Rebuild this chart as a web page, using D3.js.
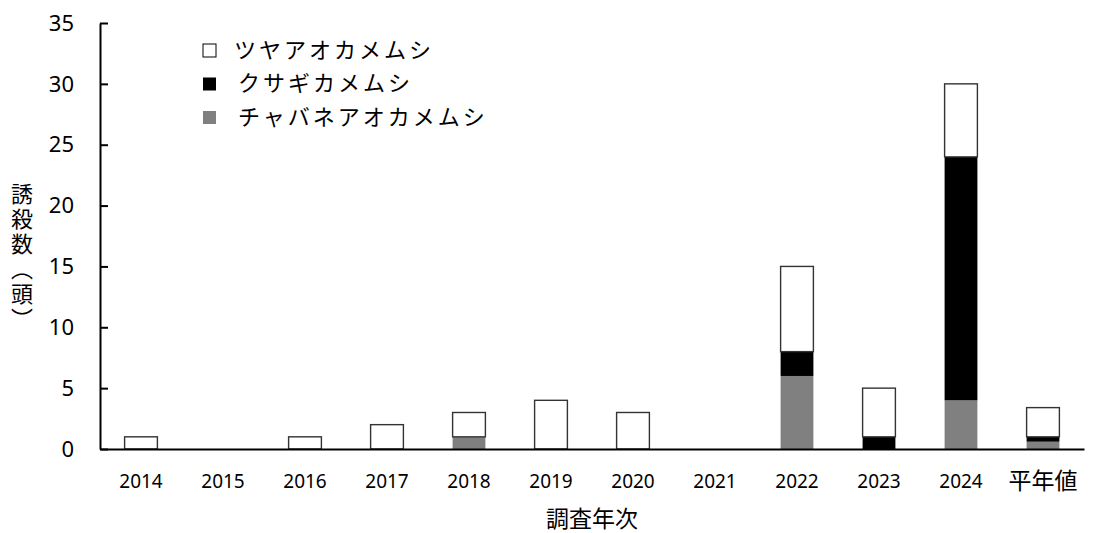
<!DOCTYPE html>
<html>
<head>
<meta charset="utf-8">
<script src="https://cdn.jsdelivr.net/npm/d3@7"></script>
<style>
  body { margin: 0; background: #fff; }
  text { font-family: "Noto Sans CJK JP", "Noto Sans", sans-serif; }
</style>
</head>
<body>
<svg id="chart"></svg>
<script>
var w = 1094;
var h = 533;

// data
var years = ["2014", "2015", "2016", "2017", "2018", "2019", "2020", "2021", "2022", "2023", "2024", "平年値"];
var species = ["チャバネアオカメムシ", "クサギカメムシ", "ツヤアオカメムシ"];
var chabane = [0, 0, 0, 0, 1, 0, 0, 0, 6, 0, 4, 0.6];
var kusagi = [0, 0, 0, 0, 0, 0, 0, 0, 2, 1, 20, 0.4];
var tsuya = [1, 0, 1, 2, 2, 4, 3, 0, 7, 4, 6, 2.4];
var yTicks = [0, 5, 10, 15, 20, 25, 30, 35];

var colors = { "チャバネアオカメムシ": "#808080", "クサギカメムシ": "#000000", "ツヤアオカメムシ": "#ffffff" };

var rows = years.map(function (y, i) {
    return { year: y, "チャバネアオカメムシ": chabane[i], "クサギカメムシ": kusagi[i], "ツヤアオカメムシ": tsuya[i] };
});

var margin = { left: 100, right: 10, top: 23, bottom: 84 };

var svg = d3.select("#chart")
    .attr("width", w)
    .attr("height", h);

var x = d3.scaleBand()
    .domain(years)
    .range([margin.left, w - margin.right])
    .paddingInner(0.6)
    .paddingOuter(0.3);

var y = d3.scaleLinear()
    .domain([0, 35])
    .range([h - margin.bottom, margin.top]);

var stack = d3.stack().keys(species)(rows);

// bars
svg.selectAll("g.layer")
    .data(stack)
    .enter()
    .append("g")
    .attr("class", "layer")
    .attr("fill", function (d) { return colors[d.key]; })
    .attr("stroke", function (d) { return d.key === "ツヤアオカメムシ" ? "#333" : "none"; })
    .attr("stroke-width", 1.4)
    .selectAll("rect")
    .data(function (d) { return d.filter(function (p) { return p[1] - p[0] > 0; }); })
    .enter()
    .append("rect")
    .attr("x", function (d) { return x(d.data.year); })
    .attr("width", x.bandwidth())
    .attr("y", function (d) { return y(d[1]); })
    .attr("height", function (d) { return y(d[0]) - y(d[1]); });

// y axis (ticks inside)
var yAxis = svg.append("g")
    .attr("transform", "translate(" + margin.left + ",0)")
    .call(d3.axisRight(y).tickValues(yTicks).tickSize(8).tickSizeOuter(0).tickFormat(""));
yAxis.select(".domain").attr("stroke", "#000").attr("stroke-width", 2);
yAxis.selectAll(".tick line").attr("stroke", "#000").attr("stroke-width", 2);

svg.selectAll("text.ytick")
    .data(yTicks)
    .enter()
    .append("text")
    .attr("class", "ytick")
    .attr("x", 74)
    .attr("y", function (d) { return y(d); })
    .attr("dy", "0.35em")
    .attr("text-anchor", "end")
    .attr("font-size", "22px")
    .style("font-family", "'Noto Sans', sans-serif")
    .text(function (d) { return d; });

// x axis
var xAxis = svg.append("g")
    .attr("transform", "translate(0," + y(0) + ")")
    .call(d3.axisBottom(x).tickSize(0).tickPadding(26));
xAxis.select(".domain").attr("stroke", "#000").attr("stroke-width", 2);
xAxis.selectAll(".tick text")
    .attr("font-size", function (d) { return isNaN(+d) ? "23px" : "19px"; })
    .attr("dy", function (d) { return isNaN(+d) ? "0.62em" : "0.71em"; })
    .attr("fill", "#000")
    .style("font-family", "'Noto Sans', 'Noto Sans CJK JP', sans-serif");

// axis titles
svg.append("text")
    .text("調査年次")
    .attr("x", 592)
    .attr("y", 527)
    .attr("text-anchor", "middle")
    .attr("font-size", "23px");

svg.append("text")
    .text("誘殺数（頭）")
    .attr("x", 22)
    .attr("y", 183)
    .attr("font-size", "22px")
    .style("writing-mode", "vertical-rl")
    .style("text-orientation", "upright")
    .style("text-spacing-trim", "space-all")
    .style("letter-spacing", "3px");

// legend
var legendKeys = ["ツヤアオカメムシ", "クサギカメムシ", "チャバネアオカメムシ"];
var legend = svg.selectAll("g.legend")
    .data(legendKeys)
    .enter()
    .append("g")
    .attr("class", "legend")
    .attr("transform", function (d, i) { return "translate(203," + (50 + i * 33.5) + ")"; });

legend.append("rect")
    .attr("x", 0)
    .attr("y", -6)
    .attr("width", 13)
    .attr("height", 13)
    .attr("fill", function (d) { return colors[d]; })
    .attr("stroke", function (d) { return d === "ツヤアオカメムシ" ? "#000" : "none"; })
    .attr("stroke-width", 1);

legend.append("text")
    .attr("x", function (d, i) { return i === 0 ? 31 : 35; })
    .attr("y", 0)
    .attr("dy", "0.35em")
    .attr("font-size", "22px")
    .attr("letter-spacing", "3px")
    .text(function (d) { return d; });
</script>
</body>
</html>
